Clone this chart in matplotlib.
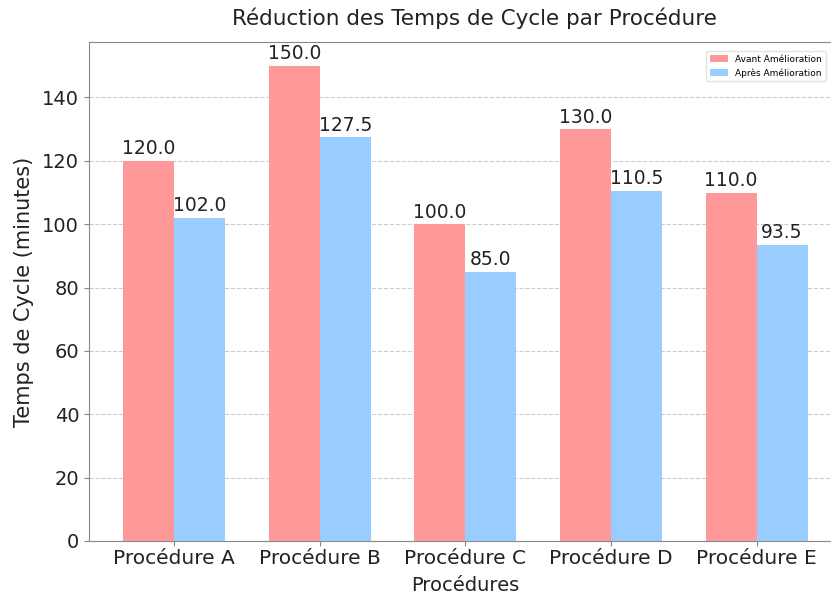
import matplotlib
matplotlib.use("Agg")
import matplotlib.pyplot as plt
import numpy as np

categories = ["Procédure A", "Procédure B", "Procédure C", "Procédure D", "Procédure E"]
avant = [120.0, 150.0, 100.0, 130.0, 110.0]
apres = [102.0, 127.5, 85.0, 110.5, 93.5]
yticks = [0, 20, 40, 60, 80, 100, 120, 140]

plt.rcParams['font.family'] = ['DejaVu Sans']
fig = plt.figure(figsize=(8.31, 5.96), dpi=100)
ax = fig.add_axes([0.107, 0.0923, 0.906, 0.8372])

x = np.arange(len(categories))
w = 0.35
b1 = ax.bar(x - w/2, avant, w, color="#FF9999", label="Avant Amélioration", zorder=3)
b2 = ax.bar(x + w/2, apres, w, color="#99CCFF", label="Après Amélioration", zorder=3)

for bars in (b1, b2):
    for r in bars:
        h = r.get_height()
        ax.text(r.get_x() + r.get_width()/2, h + 0.8, f"{h:.1f}", ha="center", va="bottom",
                fontsize=13.5, color="#222222")

ax.set_xticks(x)
ax.set_xticklabels(categories, fontsize=14.5, color="#222222")
ax.set_yticks(yticks)
ax.tick_params(axis='y', labelsize=14, colors="#222222")
ax.tick_params(axis='x', pad=2)
ax.tick_params(axis='both', color="#888888")
ax.set_ylim(0, 157.5)
ax.set_xlabel("Procédures", fontsize=14, color="#222222", labelpad=6)
ax.set_ylabel("Temps de Cycle (minutes)", fontsize=15, color="#222222", labelpad=6)
ax.set_title("Réduction des Temps de Cycle par Procédure", fontsize=15.5, color="#222222",
             pad=12, x=0.512)
ax.yaxis.grid(True, linestyle="--", color="#cccccc", linewidth=0.8, zorder=0)
ax.set_axisbelow(True)
for s in ax.spines.values():
    s.set_color("#888888")
ax.legend(loc="upper right", bbox_to_anchor=(0.999, 0.922), bbox_transform=fig.transFigure,
          fontsize=6.5, frameon=True, edgecolor="#dddddd")

fig.savefig("out.png", dpi=100)
